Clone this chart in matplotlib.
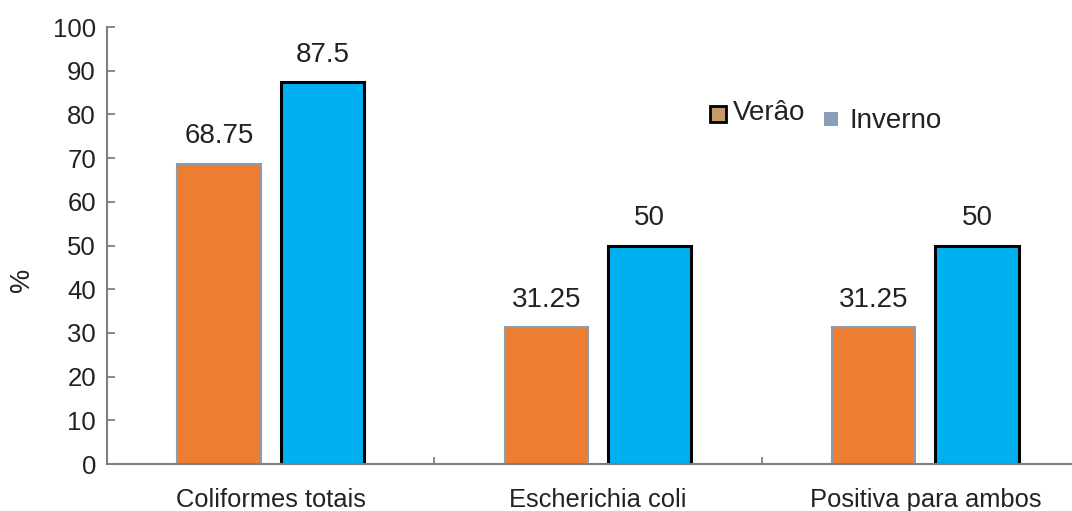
import matplotlib
matplotlib.use("Agg")
import matplotlib.pyplot as plt
from matplotlib.patches import Rectangle
import numpy as np

categories = ["Coliformes totais", "Escherichia coli", "Positiva para ambos"]
verao = [68.75, 31.25, 31.25]
inverno = [87.5, 50, 50]
verao_labels = ["68.75", "31.25", "31.25"]
inverno_labels = ["87.5", "50", "50"]
yticks = [0, 10, 20, 30, 40, 50, 60, 70, 80, 90, 100]
series_names = ["Verâo", "Inverno"]

plt.rcParams['font.family'] = ['Liberation Sans', 'DejaVu Sans']

W, H = 1072, 511
fig = plt.figure(figsize=(W / 100, H / 100), dpi=100)
ax = fig.add_axes([107 / W, 1 - 464 / H, 982 / W, 437 / H])

x = np.arange(len(categories))
off = 0.158
bw = 0.255
ax.bar(x - off, verao, bw, color="#ED7D31", edgecolor="#8C9CB0", linewidth=1.5, zorder=2)
ax.bar(x + off, inverno, bw, color="#00B0F0", edgecolor="black", linewidth=2.2, zorder=2)

for xi, v, t in zip(x, verao, verao_labels):
    ax.annotate(t, (xi - off, v), xytext=(0, 19.5), textcoords="offset points",
                ha="center", va="center", fontsize=20, color="#222222")
for xi, v, t in zip(x, inverno, inverno_labels):
    ax.annotate(t, (xi + off, v), xytext=(0, 19.5), textcoords="offset points",
                ha="center", va="center", fontsize=20, color="#222222")

ax.set_xlim(-0.5, len(categories) - 0.5)
ax.set_ylim(0, 100)
ax.set_yticks(yticks)
ax.set_yticklabels([str(v) for v in yticks], fontsize=18.5, color="#222222")
ax.tick_params(axis="y", direction="in", length=6, width=1.3, color="#7F7F7F", pad=8)

ax.set_xticks(np.arange(-0.5, len(categories), 1.0))
ax.set_xticklabels([])
ax.tick_params(axis="x", which="major", direction="in", length=5, width=1.3, color="#7F7F7F")
ax.set_xticks(x, minor=True)
ax.set_xticklabels(categories, minor=True, fontsize=18.4, color="#222222")
ax.tick_params(axis="x", which="minor", length=0, pad=17)

for s in ["top", "right"]:
    ax.spines[s].set_visible(False)
for s in ["left", "bottom"]:
    ax.spines[s].set_color("#7F7F7F")
    ax.spines[s].set_linewidth(1.5)

fig.text(22 / W, 1 - 280 / H, "%", rotation=90, ha="center", va="center",
         fontsize=19.5, color="#222222")

# legend
fig.add_artist(Rectangle((710 / W, 1 - 122 / H), 16 / W, 16 / H, transform=fig.transFigure,
                         facecolor="#C49A6A", edgecolor="black", linewidth=2.0))
fig.text(733 / W, 1 - 113 / H, series_names[0], ha="left", va="center", fontsize=20, color="#222222")
fig.add_artist(Rectangle((824 / W, 1 - 126 / H), 14 / W, 14 / H, transform=fig.transFigure,
                         facecolor="#8A9DBA", edgecolor="none"))
fig.text(849 / W, 1 - 121 / H, series_names[1], ha="left", va="center", fontsize=20, color="#222222")

fig.savefig("out.png", dpi=100)
